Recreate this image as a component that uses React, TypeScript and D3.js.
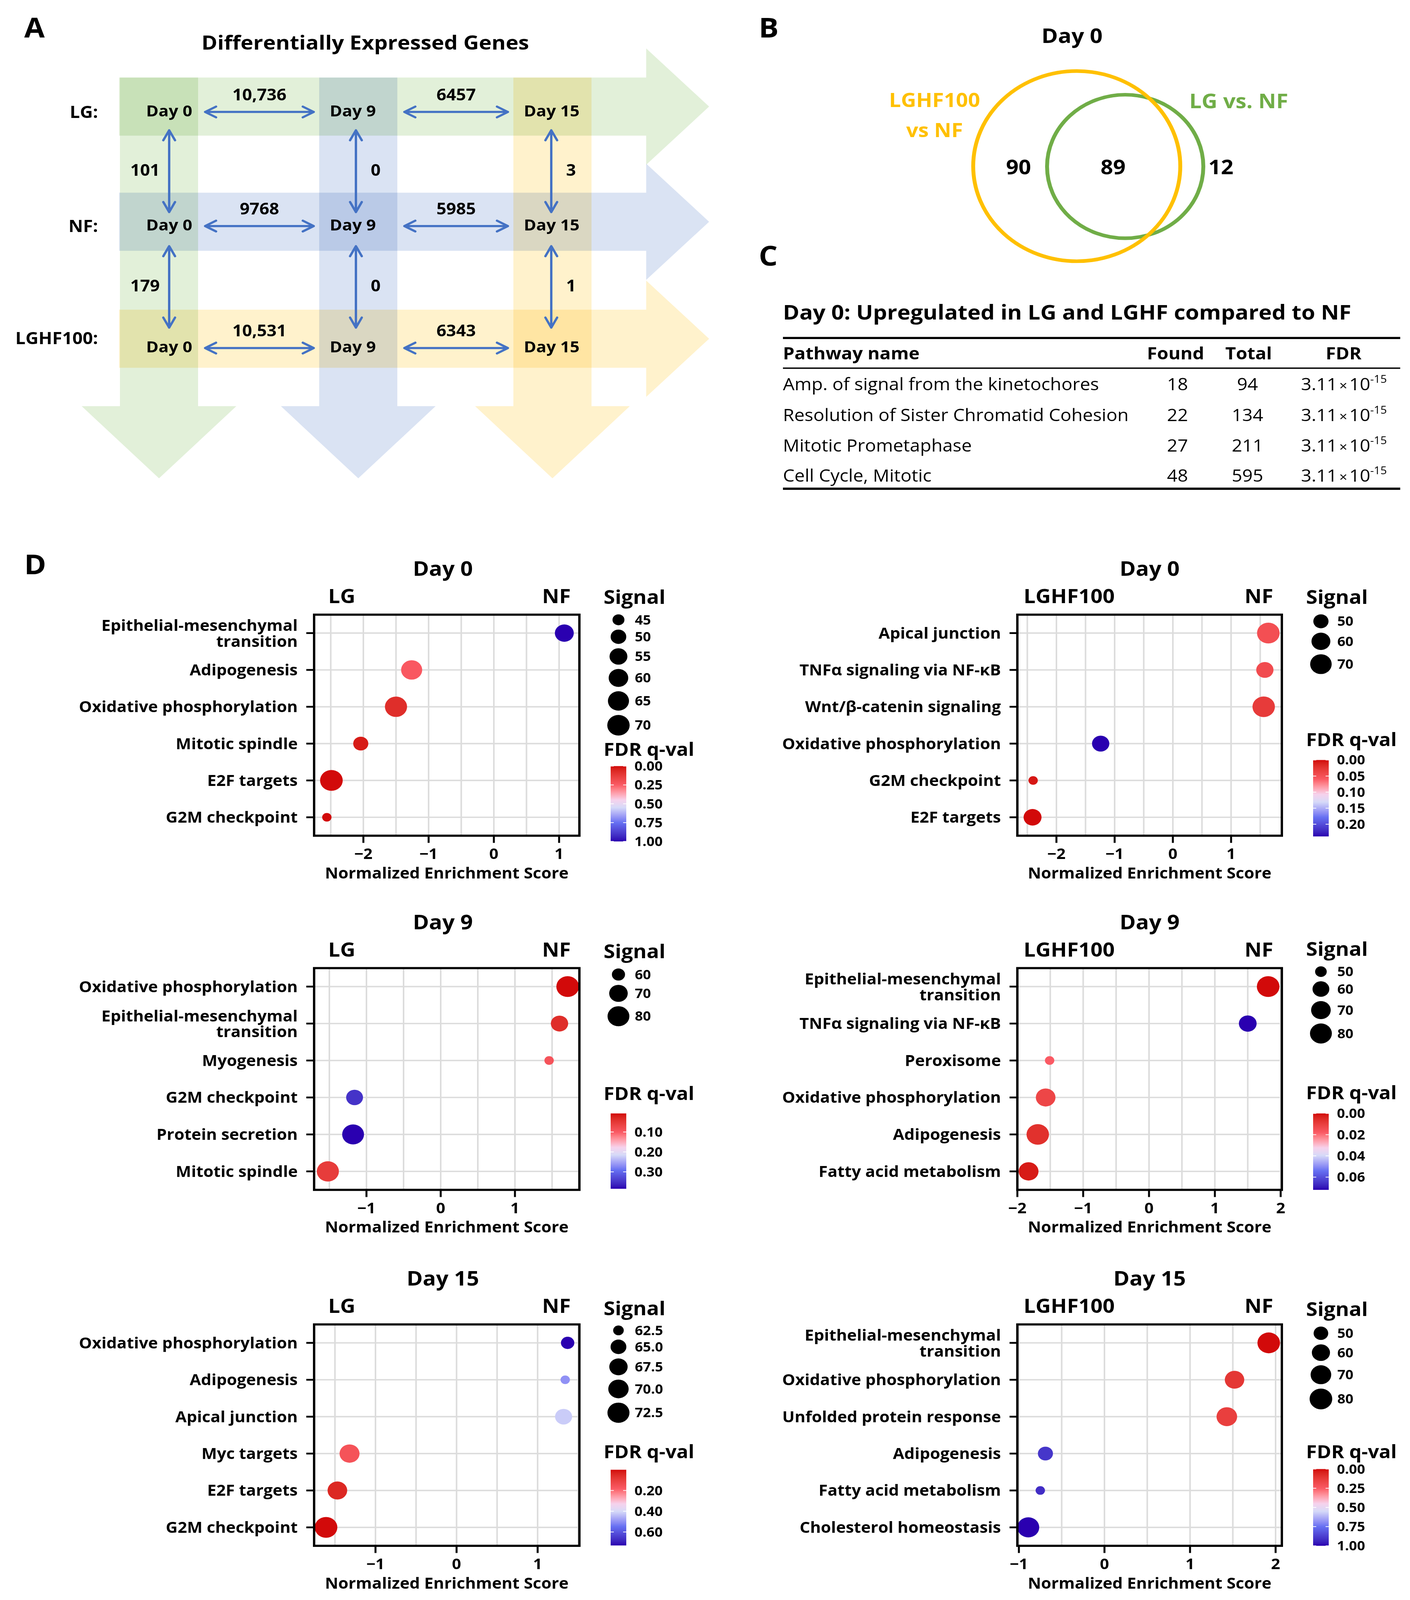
import React from 'react';
import * as d3 from 'd3';

const W = 3609;
const H = 4459;
const FONT = '"Open Sans", Lato, sans-serif';

// ---------- A: differentially expressed genes ----------
const timepoints = ['Day 0', 'Day 9', 'Day 15'];
const diets = ['LG:', 'NF:', 'LGHF100:'];
const dayToDay = [
  ['10,736', '6457'],
  ['9768', '5985'],
  ['10,531', '6343'],
];
const dietToDiet = [
  ['101', '0', '3'],
  ['179', '0', '1'],
];

// ---------- B: venn ----------
const vennTitle = 'Day 0';
const vennSetA = ['LGHF100', 'vs NF'];
const vennSetB = 'LG vs. NF';
const vennCounts = ['90', '89', '12'];

// ---------- C: table ----------
const tableTitle = 'Day 0: Upregulated in LG and LGHF compared to NF';
const tableHeader = ['Pathway name', 'Found', 'Total', 'FDR'];
const pathwayNames = [
  'Amp. of signal from the kinetochores',
  'Resolution of Sister Chromatid Cohesion',
  'Mitotic Prometaphase',
  'Cell Cycle, Mitotic',
];
const pathwayFound = [18, 22, 27, 48];
const pathwayTotal = [94, 134, 211, 595];
const pathwayFdr = ['3.11', '3.11', '3.11', '3.11'];
const pathwayFdrExp = ['-15', '-15', '-15', '-15'];

// ---------- D: GSEA dot plots ----------
const d0lgPathways = ['Epithelial-mesenchymal\ntransition', 'Adipogenesis', 'Oxidative phosphorylation', 'Mitotic spindle', 'E2F targets', 'G2M checkpoint'];
const d0lgNES = [1.08, -1.26, -1.5, -2.04, -2.49, -2.56];
const d0lgSignal = [58, 65, 69, 49, 71, 44];
const d0lgFDR = [1.0, 0.24, 0.08, 0.03, 0.0, 0.0];

const d0hfPathways = ['Apical junction', 'TNFα signaling via NF-κB', 'Wnt/β-catenin signaling', 'Oxidative phosphorylation', 'G2M checkpoint', 'E2F targets'];
const d0hfNES = [1.64, 1.58, 1.56, -1.24, -2.4, -2.41];
const d0hfSignal = [75, 55, 74, 55, 44, 57];
const d0hfFDR = [0.048, 0.045, 0.03, 0.238, 0.005, 0.0];

const d9lgPathways = ['Oxidative phosphorylation', 'Epithelial-mesenchymal\ntransition', 'Myogenesis', 'G2M checkpoint', 'Protein secretion', 'Mitotic spindle'];
const d9lgNES = [1.71, 1.6, 1.46, -1.16, -1.18, -1.52];
const d9lgSignal = [83, 67, 58, 66, 80, 81];
const d9lgFDR = [0.007, 0.037, 0.09, 0.35, 0.385, 0.056];

const d9hfPathways = ['Epithelial-mesenchymal\ntransition', 'TNFα signaling via NF-κB', 'Peroxisome', 'Oxidative phosphorylation', 'Adipogenesis', 'Fatty acid metabolism'];
const d9hfNES = [1.81, 1.5, -1.51, -1.57, -1.69, -1.83];
const d9hfSignal = [84, 63, 49, 70, 83, 71];
const d9hfFDR = [0.0, 0.072, 0.018, 0.012, 0.0065, 0.002];

const d15lgPathways = ['Oxidative phosphorylation', 'Adipogenesis', 'Apical junction', 'Myc targets', 'E2F targets', 'G2M checkpoint'];
const d15lgNES = [1.37, 1.34, 1.32, -1.32, -1.47, -1.61];
const d15lgSignal = [63.4, 62.4, 66.1, 69.5, 69, 73.5];
const d15lgFDR = [0.73, 0.5, 0.42, 0.16, 0.045, 0.0];

const d15hfPathways = ['Epithelial-mesenchymal\ntransition', 'Oxidative phosphorylation', 'Unfolded protein response', 'Adipogenesis', 'Fatty acid metabolism', 'Cholesterol homeostasis'];
const d15hfNES = [1.92, 1.52, 1.43, -0.69, -0.75, -0.89];
const d15hfSignal = [80, 65, 70, 51, 44.5, 76];
const d15hfFDR = [0.0, 0.11, 0.14, 0.9, 0.92, 1.0];

const fdrStops = [0, 0.25, 0.45, 0.55, 0.75, 1];
const fdrColors = ['#d20a0a', '#fa5a64', '#f6d2ec', '#d6daf8', '#6670f2', '#2a00b0'];
const fdrRamp = d3.scaleLinear<string>().domain(fdrStops).range(fdrColors).interpolate(d3.interpolateLab);

const D_MIN = 24;
const D_MAX = 58;

interface Panel {
  key: string;
  title: string;
  left: string;
  pathways: string[];
  nes: number[];
  signal: number[];
  fdr: number[];
  sizeBreaks: number[];
  sizeFmt: string;
  fdrBreaks: number[];
  xDomain: [number, number];
  x0: number; x1: number; y0: number; y1: number;
  sigTitleY: number; fdrTitleY: number; barTop: number; barBot: number;
}

const LX = [804, 1483];
const RX = [2604, 3281];
const ROWS = [[1713, 2329], [2698, 3316], [3691, 4308]];

const panels: Panel[] = [
  { key: 'd0lg', title: 'Day 0', left: 'LG', pathways: d0lgPathways, nes: d0lgNES, signal: d0lgSignal, fdr: d0lgFDR,
    sizeBreaks: [45, 50, 55, 60, 65, 70], sizeFmt: 'd', fdrBreaks: [0, 0.25, 0.5, 0.75, 1], xDomain: [-2.755, 1.311],
    x0: LX[0], x1: LX[1], y0: ROWS[0][0], y1: ROWS[0][1], sigTitleY: 1683, fdrTitleY: 2106, barTop: 2135, barBot: 2345 },
  { key: 'd0hf', title: 'Day 0', left: 'LGHF100', pathways: d0hfPathways, nes: d0hfNES, signal: d0hfSignal, fdr: d0hfFDR,
    sizeBreaks: [50, 60, 70], sizeFmt: 'd', fdrBreaks: [0, 0.05, 0.1, 0.15, 0.2], xDomain: [-2.671, 1.872],
    x0: RX[0], x1: RX[1], y0: ROWS[0][0], y1: ROWS[0][1], sigTitleY: 1683, fdrTitleY: 2079, barTop: 2118, barBot: 2331 },
  { key: 'd9lg', title: 'Day 9', left: 'LG', pathways: d9lgPathways, nes: d9lgNES, signal: d9lgSignal, fdr: d9lgFDR,
    sizeBreaks: [60, 70, 80], sizeFmt: 'd', fdrBreaks: [0.1, 0.2, 0.3], xDomain: [-1.705, 1.868],
    x0: LX[0], x1: LX[1], y0: ROWS[1][0], y1: ROWS[1][1], sigTitleY: 2670, fdrTitleY: 3066, barTop: 3103, barBot: 3313 },
  { key: 'd9hf', title: 'Day 9', left: 'LGHF100', pathways: d9hfPathways, nes: d9hfNES, signal: d9hfSignal, fdr: d9hfFDR,
    sizeBreaks: [50, 60, 70, 80], sizeFmt: 'd', fdrBreaks: [0, 0.02, 0.04, 0.06], xDomain: [-2.0, 2.018],
    x0: RX[0], x1: RX[1], y0: ROWS[1][0], y1: ROWS[1][1], sigTitleY: 2664, fdrTitleY: 3063, barTop: 3103, barBot: 3316 },
  { key: 'd15lg', title: 'Day 15', left: 'LG', pathways: d15lgPathways, nes: d15lgNES, signal: d15lgSignal, fdr: d15lgFDR,
    sizeBreaks: [62.5, 65, 67.5, 70, 72.5], sizeFmt: '.1f', fdrBreaks: [0.2, 0.4, 0.6], xDomain: [-1.757, 1.515],
    x0: LX[0], x1: LX[1], y0: ROWS[2][0], y1: ROWS[2][1], sigTitleY: 3665, fdrTitleY: 4064, barTop: 4096, barBot: 4307 },
  { key: 'd15hf', title: 'Day 15', left: 'LGHF100', pathways: d15hfPathways, nes: d15hfNES, signal: d15hfSignal, fdr: d15hfFDR,
    sizeBreaks: [50, 60, 70, 80], sizeFmt: 'd', fdrBreaks: [0, 0.25, 0.5, 0.75, 1], xDomain: [-1.018, 2.073],
    x0: RX[0], x1: RX[1], y0: ROWS[2][0], y1: ROWS[2][1], sigTitleY: 3668, fdrTitleY: 4064, barTop: 4094, barBot: 4308 },
];

// baseline for a text whose visual centre should sit at y
const mid = (y: number, fs: number) => y + fs * 0.36;

function DotPlot({ p }: { p: Panel }) {
  const x = d3.scaleLinear().domain(p.xDomain).range([p.x0, p.x1]);
  const y = d3.scalePoint<string>().domain(p.pathways).range([p.y0, p.y1]).padding(0.5);
  const [sLo, sHi] = d3.extent(p.signal) as [number, number];
  const sNorm = d3.scaleLinear().domain([sLo, sHi]).range([0, 1]).clamp(true);
  const rad = (v: number) => (D_MIN + (D_MAX - D_MIN) * Math.sqrt(sNorm(v))) / 2;
  const [fLo, fHi] = d3.extent(p.fdr) as [number, number];
  const fNorm = d3.scaleLinear().domain([fLo, fHi]).range([0, 1]).clamp(true);
  const colour = (v: number) => fdrRamp(fNorm(v));
  const bar = d3.scaleLinear().domain([fLo, fHi]).range([p.barTop, p.barBot]);
  const xTicks = d3.range(Math.ceil(p.xDomain[0]), Math.floor(p.xDomain[1]) + 1);
  const xGrid = d3.range(Math.ceil(p.xDomain[0] * 2) / 2, p.xDomain[1] + 1e-9, 0.5);
  const tickFmt = d3.format('d');
  const sizeFmt = d3.format(p.sizeFmt);
  const fdrFmt = d3.format('.2f');
  const isRight = p.x0 > 2000;

  let cursor = p.sigTitleY + 23;
  const keys = p.sizeBreaks.map((v) => {
    const r = rad(v);
    const cy = cursor + (2 * r + 12) / 2;
    cursor += 2 * r + 12;
    return { v, cy, r };
  });
  const gradId = `grad-${p.key}`;
  const gradStops = d3.range(0, 1.0001, 0.05);
  const barX = p.x1 + 80;

  return (
    <g>
      <text x={(p.x0 + p.x1) / 2 - (isRight ? 0 : 10)} y={p.y0 - 108} textAnchor="middle" fontSize={56} fontWeight={700}>{p.title}</text>
      <text x={p.x0 + (isRight ? 16 : 36)} y={p.y0 - 32} fontSize={54} fontWeight={700}>{p.left}</text>
      <text x={p.x1 - 22} y={p.y0 - 32} textAnchor="end" fontSize={54} fontWeight={700}>NF</text>

      {xGrid.map((g) => (
        <line key={`gx${g}`} x1={x(g)} x2={x(g)} y1={p.y0} y2={p.y1} stroke="#dcdcdc" strokeWidth={4} />
      ))}
      {p.pathways.map((c) => (
        <line key={`gy${c}`} x1={p.x0} x2={p.x1} y1={y(c)} y2={y(c)} stroke="#dcdcdc" strokeWidth={4} />
      ))}

      {p.pathways.map((c, i) => (
        <circle key={`pt${c}`} cx={x(p.nes[i])} cy={y(c)} r={rad(p.signal[i])} fill={colour(p.fdr[i])} />
      ))}

      <rect x={p.x0} y={p.y0} width={p.x1 - p.x0} height={p.y1 - p.y0} fill="none" stroke="#000" strokeWidth={6} />

      {p.pathways.map((c) => {
        const lines = c.split('\n');
        const cy = y(c) as number;
        const lx = p.x0 - 42;
        return (
          <g key={`yl${c}`}>
            <line x1={p.x0 - 20} x2={p.x0} y1={cy} y2={cy} stroke="#000" strokeWidth={5} />
            {lines.length > 1 ? (
              <text x={lx} y={mid(cy - 21, 42)} textAnchor="end" fontSize={42} fontWeight={700}>
                <tspan x={lx}>{lines[0]}</tspan>
                <tspan x={lx} dy={44}>{lines[1]}</tspan>
              </text>
            ) : (
              <text x={lx} y={mid(cy, 42)} textAnchor="end" fontSize={42} fontWeight={700}>{c}</text>
            )}
          </g>
        );
      })}

      {xTicks.map((t) => (
        <g key={`xt${t}`}>
          <line x1={x(t)} x2={x(t)} y1={p.y1} y2={p.y1 + 20} stroke="#000" strokeWidth={5} />
          <text x={x(t)} y={mid(p.y1 + 50, 41)} textAnchor="middle" fontSize={41} fontWeight={700}>{tickFmt(t)}</text>
        </g>
      ))}
      <text x={(p.x0 + p.x1) / 2} y={mid(p.y1 + 104, 42)} textAnchor="middle" fontSize={42} fontWeight={700}>Normalized Enrichment Score</text>

      <text x={p.x1 + 62} y={p.sigTitleY} fontSize={53} fontWeight={700}>Signal</text>
      {keys.map((k) => (
        <g key={`sk${k.v}`}>
          <circle cx={p.x1 + 100} cy={k.cy} r={k.r} fill="#000" />
          <text x={p.x1 + 142} y={mid(k.cy, 36)} fontSize={36} fontWeight={700}>{sizeFmt(k.v)}</text>
        </g>
      ))}

      <text x={p.x1 + 62} y={p.fdrTitleY} fontSize={50} fontWeight={700}>FDR q-val</text>
      <defs>
        <linearGradient id={gradId} x1="0" x2="0" y1="0" y2="1">
          {gradStops.map((s) => (
            <stop key={s} offset={s} stopColor={fdrRamp(s)} />
          ))}
        </linearGradient>
      </defs>
      <rect x={barX} y={p.barTop} width={40} height={p.barBot - p.barTop} fill={`url(#${gradId})`} />
      {p.fdrBreaks.map((b) => (
        <g key={`fb${b}`}>
          <line x1={barX} x2={barX + 8} y1={bar(b)} y2={bar(b)} stroke="#fff" strokeWidth={2} />
          <line x1={barX + 32} x2={barX + 40} y1={bar(b)} y2={bar(b)} stroke="#fff" strokeWidth={2} />
          <text x={p.x1 + 141} y={mid(bar(b), 36)} fontSize={36} fontWeight={700}>{fdrFmt(b)}</text>
        </g>
      ))}
    </g>
  );
}

// ---------- panel A geometry ----------
const colX = d3.scaleOrdinal<string, number>().domain(timepoints).range([407, 917, 1414]);
const rowY = d3.scaleOrdinal<string, number>().domain(diets).range([297, 618, 944]);
const dayTextX = d3.scaleOrdinal<string, number>().domain(timepoints).range([433, 903, 1412]);
const dayTextY = d3.scaleOrdinal<string, number>().domain(diets).range([309, 627, 967]);
const arrowX = d3.scaleOrdinal<string, number>().domain(timepoints).range([433, 911, 1411]);
const vSpans = [[363, 591], [686, 913]];
const bandColour = ['#e2f0d9', '#dae3f3', '#fff2cc'];
const BAND_TOP = 216;
const BAND_LEFT = 305;
const V_END = 1132;
const V_TIP = 1333;
const H_END = 1654;
const H_TIP = 1815;
const ARROW = '#4472c4';

function bandV(cx: number) {
  return `M${cx - 100},${BAND_TOP}H${cx + 100}V${V_END}H${cx + 198}L${cx},${V_TIP}L${cx - 198},${V_END}H${cx - 100}Z`;
}
function bandH(cy: number) {
  return `M${BAND_LEFT},${cy - 81}H${H_END}V${cy - 162}L${H_TIP},${cy}L${H_END},${cy + 162}V${cy + 81}H${BAND_LEFT}Z`;
}
function dblH(a: number, b: number, y: number) {
  return `M${a},${y}H${b}M${a + 28},${y - 15}L${a},${y}L${a + 28},${y + 15}M${b - 28},${y - 15}L${b},${y}L${b - 28},${y + 15}`;
}
function dblV(x: number, a: number, b: number) {
  return `M${x},${a}V${b}M${x - 15},${a + 28}L${x},${a}L${x + 15},${a + 28}M${x - 15},${b - 28}L${x},${b}L${x + 15},${b - 28}`;
}

function PanelA() {
  return (
    <g>
      <text x={62} y={104} fontSize={76} fontWeight={700}>A</text>
      <text x={935} y={138} textAnchor="middle" fontSize={55} fontWeight={700}>Differentially Expressed Genes</text>
      <g style={{ isolation: 'isolate' }}>
        {timepoints.map((t, i) => (
          <path key={`v${t}`} d={bandV(colX(t))} fill={bandColour[i]} style={{ mixBlendMode: 'multiply' }} />
        ))}
        {diets.map((d, i) => (
          <path key={`h${d}`} d={bandH(rowY(d))} fill={bandColour[i]} style={{ mixBlendMode: 'multiply' }} />
        ))}
      </g>
      {diets.map((d) => (
        <text key={`rl${d}`} x={251} y={mid(d === 'LGHF100:' ? 943 : dayTextY(d) + 3, 46)} textAnchor="end" fontSize={46} fontWeight={700}>{d}</text>
      ))}
      {diets.map((d) =>
        timepoints.map((t) => (
          <text key={`c${d}${t}`} x={dayTextX(t)} y={mid(dayTextY(d), 43)} textAnchor="middle" fontSize={43} fontWeight={700}>{t}</text>
        ))
      )}
      {diets.map((d, i) =>
        dayToDay[i].map((n, j) => {
          const a = colX(timepoints[j]) + 118;
          const b = colX(timepoints[j + 1]) - 114;
          const yy = dayTextY(d) + 3;
          return (
            <g key={`dd${i}${j}`}>
              <path d={dblH(a, b, yy)} fill="none" stroke={ARROW} strokeWidth={6} strokeLinecap="round" strokeLinejoin="round" />
              <text x={(a + b) / 2} y={mid(yy - 48, 44)} textAnchor="middle" fontSize={44} fontWeight={700}>{n}</text>
            </g>
          );
        })
      )}
      {dietToDiet.map((row, i) =>
        row.map((n, j) => {
          const ax = arrowX(timepoints[j]);
          const [a, b] = vSpans[i];
          const cy = (a + b) / 2 - 3;
          return (
            <g key={`vd${i}${j}`}>
              <path d={dblV(ax, a, b)} fill="none" stroke={ARROW} strokeWidth={6} strokeLinecap="round" strokeLinejoin="round" />
              <text x={j === 0 ? ax - 24 : ax + 38} y={mid(cy, 44)} textAnchor={j === 0 ? 'end' : 'start'} fontSize={44} fontWeight={700}>{n}</text>
            </g>
          );
        })
      )}
    </g>
  );
}

function PanelB() {
  return (
    <g>
      <text x={1942} y={105} fontSize={76} fontWeight={700}>B</text>
      <text x={2744} y={120} textAnchor="middle" fontSize={57} fontWeight={700}>{vennTitle}</text>
      <circle cx={2880} cy={464} r={200} fill="none" stroke="#70ad47" strokeWidth={10} />
      <circle cx={2756} cy={463} r={265} fill="none" stroke="#ffc000" strokeWidth={10} />
      {vennSetA.map((s, i) => (
        <text key={s} x={2392} y={mid(279 + i * 84, 54)} textAnchor="middle" fontSize={54} fontWeight={700} fill="#ffc000">{s}</text>
      ))}
      <text x={3044} y={mid(281, 56)} fontSize={56} fontWeight={700} fill="#70ad47">{vennSetB}</text>
      {vennCounts.map((c, i) => (
        <text key={`vc${i}`} x={[2607, 2849, 3125][i]} y={mid(465, 56)} textAnchor="middle" fontSize={56} fontWeight={700}>{c}</text>
      ))}
    </g>
  );
}

function PanelC() {
  const rowBase = [1087, 1173, 1258, 1342];
  const fs = 47;
  return (
    <g>
      <text x={1942} y={740} fontSize={76} fontWeight={700}>C</text>
      <text x={2004} y={890} fontSize={57} fontWeight={700}>{tableTitle}</text>
      <line x1={2004} x2={3584} y1={942} y2={942} stroke="#000" strokeWidth={6} />
      <text x={2004} y={1002} fontSize={fs} fontWeight={700}>{tableHeader[0]}</text>
      <text x={3009} y={1002} textAnchor="middle" fontSize={fs} fontWeight={700}>{tableHeader[1]}</text>
      <text x={3196} y={1002} textAnchor="middle" fontSize={fs} fontWeight={700}>{tableHeader[2]}</text>
      <text x={3439} y={1002} textAnchor="middle" fontSize={fs} fontWeight={700}>{tableHeader[3]}</text>
      <line x1={2004} x2={3584} y1={1026} y2={1026} stroke="#000" strokeWidth={4} />
      {pathwayNames.map((n, i) => (
        <g key={n}>
          <text x={2004} y={rowBase[i]} fontSize={fs}>{n}</text>
          <text x={3014} y={rowBase[i]} textAnchor="middle" fontSize={fs}>{pathwayFound[i]}</text>
          <text x={3193} y={rowBase[i]} textAnchor="middle" fontSize={fs}>{pathwayTotal[i]}</text>
          <text x={3330} y={rowBase[i]} fontSize={fs}>
            {pathwayFdr[i]}
            <tspan fontSize={36} dx={5}>×</tspan>
            <tspan dx={5}>10</tspan>
            <tspan fontSize={29} dy={-20}>{pathwayFdrExp[i]}</tspan>
          </text>
        </g>
      ))}
      <line x1={2004} x2={3584} y1={1362} y2={1362} stroke="#000" strokeWidth={6} />
    </g>
  );
}

export default function App() {
  React.useEffect(() => {
    document.body.style.margin = '0';
    document.body.style.overflow = 'hidden';
  }, []);
  return (
    <svg
      viewBox={`0 0 ${W} ${H}`}
      preserveAspectRatio="none"
      style={{ display: 'block', position: 'fixed', left: 0, top: 0, width: '100vw', height: '100vh', fontFamily: FONT }}
    >
      <rect width={W} height={H} fill="#fff" />
      <PanelA />
      <PanelB />
      <PanelC />
      <text x={62} y={1600} fontSize={76} fontWeight={700}>D</text>
      {panels.map((p) => (
        <DotPlot key={p.key} p={p} />
      ))}
    </svg>
  );
}
